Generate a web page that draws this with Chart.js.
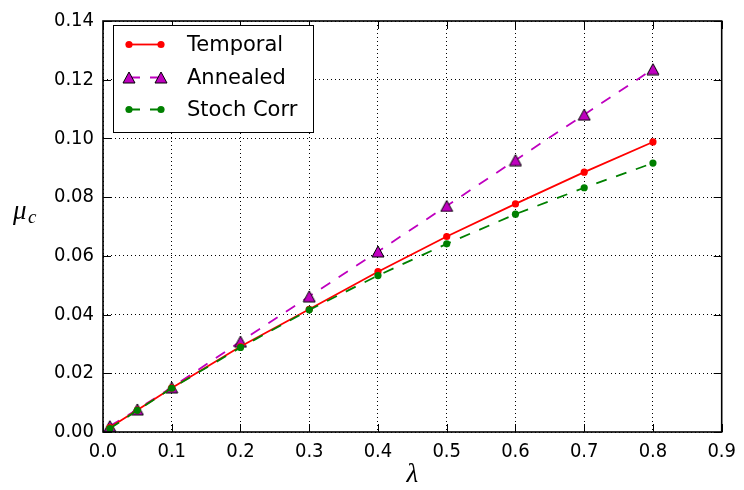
<!DOCTYPE html>
<html><head><meta charset="utf-8">
<script src="https://cdn.jsdelivr.net/npm/chart.js@4.4.0/dist/chart.umd.min.js"></script>
<style>html,body{margin:0;padding:0;background:#fff;} canvas{display:block;}</style>
</head><body>
<canvas id="c" width="744" height="490"></canvas>
<script>
// ---- data ----
const lambdaValues = [0.01, 0.05, 0.1, 0.2, 0.3, 0.4, 0.5, 0.6, 0.7, 0.8];
const temporal  = [0.0015, 0.0075, 0.0150, 0.0291, 0.0418, 0.0546, 0.0666, 0.0777, 0.0885, 0.0988];
const annealed  = [0.0020, 0.0077, 0.0152, 0.0308, 0.0462, 0.0615, 0.0770, 0.0926, 0.1081, 0.1236];
const stochCorr = [0.0012, 0.0074, 0.0149, 0.0288, 0.0416, 0.0533, 0.0641, 0.0742, 0.0832, 0.0916];
const xTickValues = [0, 0.1, 0.2, 0.3, 0.4, 0.5, 0.6, 0.7, 0.8, 0.9];
const yTickValues = [0, 0.02, 0.04, 0.06, 0.08, 0.10, 0.12, 0.14];
const seriesNames = ['Temporal', 'Annealed', 'Stoch Corr'];
const xTitle = 'λ';
const yTitleMain = 'μ';
const yTitleSub = 'c';

// ---- styles ----
const RED = '#ff0000', MAG = '#bf00bf', GRN = '#008000';
const DASH = [11, 10];

function makeTriangle() {
  const cv = document.createElement('canvas');
  cv.width = 14; cv.height = 13;
  const g = cv.getContext('2d');
  g.beginPath();
  g.moveTo(7, 1); g.lineTo(1, 12); g.lineTo(13, 12); g.closePath();
  g.fillStyle = MAG; g.fill();
  g.lineWidth = 1; g.strokeStyle = '#000'; g.stroke();
  return cv;
}
const tri = makeTriangle();

const toPts = arr => lambdaValues.map((x, i) => ({x, y: arr[i]}));

const overlay = {
  id: 'overlay',
  afterDraw(chart) {
    const ctx = chart.ctx;
    const a = chart.chartArea;
    const xs = chart.scales.x, ys = chart.scales.y;
    ctx.save();
    // ticks (inward, all four sides)
    ctx.strokeStyle = '#000'; ctx.lineWidth = 1;
    ctx.beginPath();
    xTickValues.forEach(v => {
      const px = Math.round(xs.getPixelForValue(v)) + 0.5;
      ctx.moveTo(px, a.bottom); ctx.lineTo(px, a.bottom - 8);
      ctx.moveTo(px, a.top); ctx.lineTo(px, a.top + 8);
    });
    yTickValues.forEach(v => {
      const py = Math.round(ys.getPixelForValue(v)) + 0.5;
      ctx.moveTo(a.left, py); ctx.lineTo(a.left + 8, py);
      ctx.moveTo(a.right, py); ctx.lineTo(a.right - 8, py);
    });
    ctx.stroke();
    // frame
    ctx.lineWidth = 1.6;
    ctx.strokeRect(a.left, a.top, a.right - a.left, a.bottom - a.top);

    // axis titles
    ctx.fillStyle = '#000';
    ctx.textAlign = 'center'; ctx.textBaseline = 'alphabetic';
    ctx.font = 'italic 27px "Liberation Serif"';
    ctx.fillText(xTitle, (a.left + a.right) / 2, 482);
    ctx.textAlign = 'left';
    ctx.font = 'italic 27px "Liberation Serif"';
    ctx.fillText(yTitleMain, 13, 219);
    ctx.font = 'italic 19px "Liberation Serif"';
    ctx.fillText(yTitleSub, 28, 223);

    // legend
    const bx = 113, by = 25, bw = 200, bh = 107;
    ctx.fillStyle = '#fff';
    ctx.fillRect(bx, by, bw, bh);
    ctx.lineWidth = 1; ctx.strokeStyle = '#000';
    ctx.strokeRect(bx + 0.5, by + 0.5, bw, bh);
    const rows = [44.5, 77.5, 109.5];
    const x1 = 129, x2 = 161;
    // Temporal
    ctx.strokeStyle = RED; ctx.lineWidth = 1.8; ctx.setLineDash([]);
    ctx.beginPath(); ctx.moveTo(x1, rows[0]); ctx.lineTo(x2, rows[0]); ctx.stroke();
    ctx.fillStyle = RED;
    [x1, x2].forEach(x => { ctx.beginPath(); ctx.arc(x, rows[0], 3.6, 0, Math.PI * 2); ctx.fill(); });
    // Annealed
    ctx.strokeStyle = MAG; ctx.setLineDash(DASH);
    ctx.beginPath(); ctx.moveTo(x1, rows[1]); ctx.lineTo(x2, rows[1]); ctx.stroke();
    ctx.setLineDash([]);
    [x1, x2].forEach(x => ctx.drawImage(tri, x - 7, rows[1] - 6.5));
    // Stoch Corr
    ctx.strokeStyle = GRN; ctx.setLineDash(DASH);
    ctx.beginPath(); ctx.moveTo(x1, rows[2]); ctx.lineTo(x2, rows[2]); ctx.stroke();
    ctx.setLineDash([]);
    ctx.fillStyle = GRN;
    [x1, x2].forEach(x => { ctx.beginPath(); ctx.arc(x, rows[2], 3.6, 0, Math.PI * 2); ctx.fill(); });
    // labels
    ctx.fillStyle = '#000';
    ctx.font = '21px "DejaVu Sans"';
    ctx.textAlign = 'left'; ctx.textBaseline = 'middle';
    seriesNames.forEach((n, i) => ctx.fillText(n, 187, rows[i] + 1));
    ctx.restore();
  }
};

const tickFont = {family: '"DejaVu Sans Condensed", "Liberation Sans Narrow", "DejaVu Sans"', size: 20};

new Chart(document.getElementById('c'), {
  type: 'scatter',
  data: {
    datasets: [
      {label: seriesNames[0], data: toPts(temporal), showLine: true, borderColor: RED, backgroundColor: RED,
       borderWidth: 1.8, pointRadius: 3.6, pointBorderWidth: 0, pointBackgroundColor: RED, order: 1},
      {label: seriesNames[1], data: toPts(annealed), showLine: true, borderColor: MAG, backgroundColor: MAG,
       borderWidth: 1.8, borderDash: DASH, pointStyle: tri, pointRadius: 7, order: 2},
      {label: seriesNames[2], data: toPts(stochCorr), showLine: true, borderColor: GRN, backgroundColor: GRN,
       borderWidth: 1.8, borderDash: DASH, pointRadius: 3.6, pointBorderWidth: 0, pointBackgroundColor: GRN, order: 0}
    ]
  },
  options: {
    responsive: false, animation: false, devicePixelRatio: 1,
    layout: {padding: {left: 0, right: 15, top: 15, bottom: 0}},
    plugins: {legend: {display: false}, tooltip: {enabled: false}},
    scales: {
      x: {
        type: 'linear', min: 0, max: 0.9,
        afterBuildTicks: s => { s.ticks = xTickValues.map(v => ({value: v})); },
        afterFit: s => { s.height = 58; },
        ticks: {font: tickFont, color: '#000', padding: 8, maxRotation: 0, autoSkip: false,
                callback: v => Number(v).toFixed(1)},
        grid: {color: '#000', lineWidth: 1, drawTicks: false},
        border: {display: false, dash: [1, 3]}
      },
      y: {
        type: 'linear', min: 0, max: 0.14,
        afterBuildTicks: s => { s.ticks = yTickValues.map(v => ({value: v})); },
        afterFit: s => { s.width = 103; },
        ticks: {font: tickFont, color: '#000', padding: 9, autoSkip: false,
                callback: v => Number(v).toFixed(2)},
        grid: {color: '#000', lineWidth: 1, drawTicks: false},
        border: {display: false, dash: [1, 3]}
      }
    }
  },
  plugins: [overlay]
});
</script>
</body></html>
